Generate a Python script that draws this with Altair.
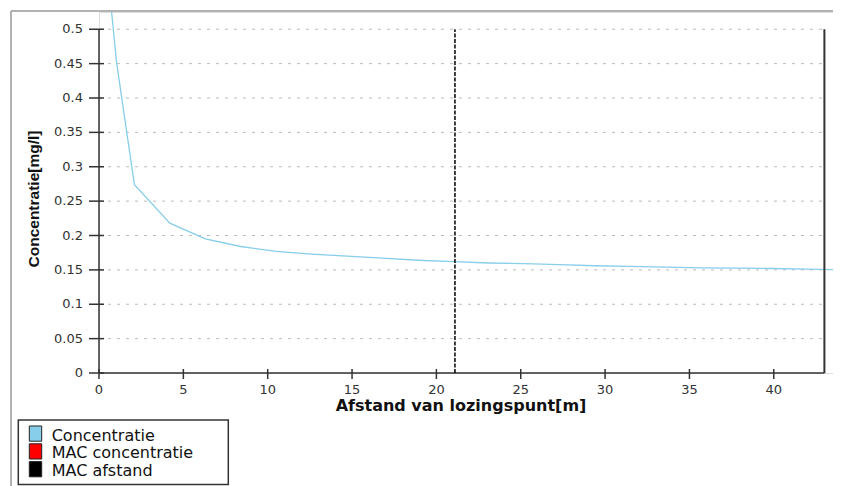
import altair as alt
import pandas as pd

# ---- data ----
DIST = [0.0, 1.05, 2.1, 4.2, 6.3, 8.4, 10.5, 12.6, 14.7, 16.8, 18.9, 21.0, 23.1,
        25.2, 27.3, 29.4, 31.5, 33.6, 35.7, 37.8, 39.9, 42.0, 44.1]
CONC = [0.71, 0.45, 0.274, 0.218, 0.195, 0.184, 0.177, 0.173, 0.170, 0.167, 0.164,
        0.162, 0.160, 0.159, 0.1575, 0.156, 0.155, 0.154, 0.153, 0.1525, 0.152,
        0.151, 0.150]
MAC_AFSTAND = 21.1
X_END = 43.0          # end of the x axis / right frame line
Y_TOP = 0.5           # top of the y axis
X_TICKS = [0, 5, 10, 15, 20, 25, 30, 35, 40]
X_LABELS = ["0", "5", "10", "15", "20", "25", "30", "35", "40"]
Y_TICKS = [0, 0.05, 0.1, 0.15, 0.2, 0.25, 0.3, 0.35, 0.4, 0.45, 0.5]
Y_LABELS = ["0", "0.05", "0.1", "0.15", "0.2", "0.25", "0.3", "0.35", "0.4", "0.45", "0.5"]
LEGEND_LABELS = ["Concentratie", "MAC concentratie", "MAC afstand"]
LEGEND_COLORS = ["#87ceeb", "#ff0000", "#000000"]
X_TITLE = "Afstand van lozingspunt[m]"
Y_TITLE = "Concentratie[mg/l]"

W, H = 734, 361
xs = alt.Scale(domain=[0, 43.51], nice=False, zero=False)
ys = alt.Scale(domain=[0, 0.5251], nice=False, zero=False)

curve = pd.DataFrame({"x": DIST, "y": CONC})
grid = pd.DataFrame({"y": [v for v in Y_TICKS if v > 0], "x0": 0, "x1": X_END})
xt = pd.DataFrame({"tx": X_TICKS, "lab": X_LABELS, "base": 0})
yt = pd.DataFrame({"ty": Y_TICKS, "lab": Y_LABELS, "base": 0})
one = pd.DataFrame({"x": [0], "y": [0], "xe": [X_END], "yt": [Y_TOP], "mac": [MAC_AFSTAND],
                    "xtitle": [X_TITLE], "ytitle": [Y_TITLE]})

AX = "#333333"


def X(f, **kw):
    return alt.X(f, axis=None, **kw)


def Y(f, **kw):
    return alt.Y(f, axis=None, **kw)


gridlayer = alt.Chart(grid).mark_rule(color="#bbbbbb", strokeDash=[3, 6], strokeWidth=1).encode(
    x=X("x0:Q", scale=xs), x2="x1:Q", y=Y("y:Q", scale=ys))

line = alt.Chart(curve).mark_line(color="#87ceeb", strokeWidth=1.3, clip=True).encode(
    x=X("x:Q"), y=Y("y:Q"))

left_ax = alt.Chart(one).mark_rule(color=AX, strokeWidth=1.5).encode(
    x=X("x:Q"), y=Y("y:Q"), y2="yt:Q")
bot_ax = alt.Chart(one).mark_rule(color=AX, strokeWidth=1.5).encode(
    x=X("x:Q"), x2="xe:Q", y=Y("y:Q"))
right_ax = alt.Chart(one).mark_rule(color=AX, strokeWidth=2).encode(
    x=X("xe:Q"), y=Y("y:Q"), y2="yt:Q")
mac = alt.Chart(one).mark_rule(color="#000000", strokeWidth=1.5, strokeDash=[4, 1.5]).encode(
    x=X("mac:Q"), y=Y("y:Q"), y2="yt:Q")

# tick marks crossing the axes
xticks = alt.Chart(xt).mark_rule(color=AX, strokeWidth=1.5, yOffset=-4, y2Offset=6).encode(
    x=X("tx:Q"), y=Y("base:Q"), y2="base:Q")
yticks = alt.Chart(yt).mark_rule(color=AX, strokeWidth=1.5, xOffset=-10, x2Offset=5).encode(
    y=Y("ty:Q"), x=X("base:Q"), x2="base:Q")

# tick labels
xlabels = alt.Chart(xt).mark_text(font="DejaVu Sans", fontSize=13, color=AX, align="center",
                                  baseline="top", dy=11).encode(
    x=X("tx:Q"), y=Y("base:Q"), text="lab:N")
ylabels = alt.Chart(yt).mark_text(font="DejaVu Sans", fontSize=13, color=AX, align="right",
                                  baseline="middle", dx=-16).encode(
    x=X("base:Q"), y=Y("ty:Q"), text="lab:N")

# axis titles
xtitle = alt.Chart(one).mark_text(font="DejaVu Sans", fontSize=16, fontWeight="bold",
                                  color="#111111", align="center", baseline="middle",
                                  clip=False).encode(
    x=alt.value(362), y=alt.value(H + 33), text="xtitle:N")
ytitle = alt.Chart(one).mark_text(font="Liberation Sans", fontSize=15.5, fontWeight="bold",
                                  color="#111111", align="center", baseline="middle",
                                  angle=270, clip=False).encode(
    x=alt.value(-65), y=alt.value(187), text="ytitle:N")

# outer frame (gray) of the chart panel
frame_top = alt.Chart(one).mark_rule(color="#999999", strokeWidth=1.5, clip=False).encode(
    x=alt.value(-88), x2=alt.value(W), y=alt.value(-1))
frame_left = alt.Chart(one).mark_rule(color="#999999", strokeWidth=1.5, clip=False).encode(
    x=alt.value(-88), y=alt.value(-1), y2=alt.value(H + 120))

# legend
legend_layers = [
    alt.Chart(one).mark_rect(fill="transparent", stroke=AX, strokeWidth=1.5, clip=False).encode(
        x=alt.value(-80.7), x2=alt.value(129.3), y=alt.value(408), y2=alt.value(472.5))
]
for i, (lab, col) in enumerate(zip(LEGEND_LABELS, LEGEND_COLORS)):
    d = pd.DataFrame({"label": [lab]})
    top = 414 + 17.8 * i
    legend_layers.append(
        alt.Chart(d).mark_rect(fill=col, stroke="#222222", strokeWidth=1, clip=False).encode(
            x=alt.value(-69.7), x2=alt.value(-57.3), y=alt.value(top), y2=alt.value(top + 15.2)))
    legend_layers.append(
        alt.Chart(d).mark_text(align="left", baseline="alphabetic", font="DejaVu Sans",
                               fontSize=16, color="#111111", clip=False).encode(
            x=alt.value(-47.3), y=alt.value(top + 14.5), text="label:N"))

chart = alt.layer(gridlayer, line, left_ax, bot_ax, right_ax, mac, xticks, yticks,
                  xlabels, ylabels, xtitle, ytitle,
                  frame_top, frame_left, *legend_layers).properties(
    width=W, height=H,
    autosize=alt.AutoSizeParams(type="none"),
    padding={"left": 91, "top": 4, "right": 0, "bottom": 113},
).configure_view(stroke=None).configure(background="white")

chart.save("out.html", embed_options={"renderer": "svg", "actions": False})
